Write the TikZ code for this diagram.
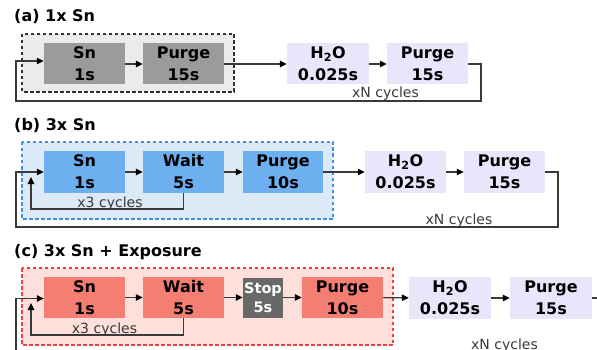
\documentclass[tikz,border=0pt]{standalone}
\usepackage{fontspec}
\setmainfont{DejaVu Sans}
\usetikzlibrary{arrows.meta}
\definecolor{linec}{HTML}{3A3A3A}
\definecolor{grayfill}{HTML}{9B9B9B}
\definecolor{graybg}{HTML}{EBEBEB}
\definecolor{grayedge}{HTML}{333333}
\definecolor{bluefill}{HTML}{6CB0F0}
\definecolor{bluebg}{HTML}{DCEAF8}
\definecolor{blueedge}{HTML}{3D8FE8}
\definecolor{redfill}{HTML}{F47E72}
\definecolor{redbg}{HTML}{FDDFDB}
\definecolor{rededge}{HTML}{EE4040}
\definecolor{stopfill}{HTML}{686868}
\definecolor{lav}{HTML}{E8E6FA}
\begin{document}
\begin{tikzpicture}[x=1pt,y=-1pt,
  stepbox/.style={inner sep=0pt, minimum width=81pt, minimum height=41pt, align=center,
    font=\fontsize{16}{22}\selectfont\bfseries},
  stopbox/.style={inner sep=0pt, minimum width=40pt, minimum height=40pt, align=center,
    fill=stopfill, text=white, font=\fontsize{14.5}{19}\selectfont\bfseries},
  title/.style={anchor=base west, inner sep=0pt, font=\fontsize{16}{19}\selectfont\bfseries},
  cyc/.style={anchor=base, inner sep=0pt, text=linec, font=\fontsize{14}{17}\selectfont},
  conn/.style={draw=linec, line width=1.1pt, -{Triangle[length=7pt,width=6.5pt,color=black]}},
  grp/.style={line width=1.2pt, dash pattern=on 3.5pt off 2.5pt}
]
\clip (0,0) rectangle (597,350);
\fill[white] (0,0) rectangle (597,350);

% ---------------- (a)
\node[title] (ta) at (14,21.5) {(a) 1x Sn};
\filldraw[grp, fill=graybg, draw=grayedge] (22,34) rectangle (234,92);
\node[stepbox, fill=grayfill] (sna) at (84.5,64) {Sn\\1s};
\node[stepbox, fill=grayfill] (pga) at (183.5,64) {Purge\\15s};
\node[stepbox, fill=lav, minimum width=82pt] (h2a) at (328,64) {H\textsubscript{2}O\\0.025s};
\node[stepbox, fill=lav] (p15a) at (427.5,64) {Purge\\15s};
\draw[conn] (sna) -- (pga);
\draw[conn] (pga) -- (h2a);
\draw[conn] (h2a) -- (p15a);
\coordinate (ra) at (481,101);
\coordinate (la) at (16,61);
\draw[conn] (p15a.east) -| (ra) -| (la) -- (la -| sna.west);
\node[cyc] (xna) at (385.5,97.5) {xN cycles};

% ---------------- (b)
\node[title] (tb) at (14,131) {(b) 3x Sn};
\filldraw[grp, fill=bluebg, draw=blueedge] (22,142) rectangle (333,219);
\node[stepbox, fill=bluefill] (snb) at (84.5,172) {Sn\\1s};
\node[stepbox, fill=bluefill] (waitb) at (183.5,172) {Wait\\5s};
\node[stepbox, fill=bluefill, minimum width=80pt] (pgb) at (283,172) {Purge\\10s};
\node[stepbox, fill=lav] (h2b) at (405.5,172) {H\textsubscript{2}O\\0.025s};
\node[stepbox, fill=lav] (p15b) at (504.5,172) {Purge\\15s};
\draw[conn] (snb) -- (waitb);
\draw[conn] (waitb) -- (pgb);
\draw[conn] (pgb) -- (h2b);
\draw[conn] (h2b) -- (p15b);
\coordinate (rb) at (558,227);
\coordinate (lb) at (16,172);
\draw[conn] (p15b.east) -| (rb) -| (lb) -- (lb -| snb.west);
\coordinate (ib) at (31,209);
\coordinate (ibt) at (31,177);
\draw[conn] (waitb.south) |- (ib) -- (ibt);
\node[cyc] (x3b) at (110,207) {x3 cycles};
\node[cyc] (xnb) at (459,224.5) {xN cycles};

% ---------------- (c)
\node[title] (tc) at (14,256) {(c) 3x Sn + Exposure};
\filldraw[grp, fill=redbg, draw=rededge] (22,268) rectangle (393,345);
\node[stepbox, fill=redfill] (snc) at (84.5,297.5) {Sn\\1s};
\node[stepbox, fill=redfill] (waitc) at (183.5,297.5) {Wait\\5s};
\node[stopbox] (stopc) at (263,297.5) {Stop\\5s};
\node[stepbox, fill=redfill] (pgc) at (342.5,297.5) {Purge\\10s};
\node[stepbox, fill=lav, minimum width=82pt, minimum height=42pt] (h2c) at (450,298) {H\textsubscript{2}O\\0.025s};
\node[stepbox, fill=lav, minimum width=82pt, minimum height=42pt] (p15c) at (551,298) {Purge\\15s};
\draw[conn] (snc) -- (waitc);
\draw[conn] (waitc) -- (stopc);
\draw[conn] (stopc) -- (pgc);
\draw[conn] (pgc) -- (h2c);
\draw[conn] (h2c) -- (p15c);
\coordinate (rc) at (606,362);
\coordinate (lc) at (16,298.5);
\draw[conn] (p15c.east) -| (rc) -| (lc) -- (lc -| snc.west);
\coordinate (ic) at (31,335);
\coordinate (ict) at (31,303);
\draw[conn] (waitc.south) |- (ic) -- (ict);
\node[cyc] (x3c) at (104.5,333.5) {x3 cycles};
\node[cyc] (xnc) at (504.5,349.5) {xN cycles};
\end{tikzpicture}
\end{document}
